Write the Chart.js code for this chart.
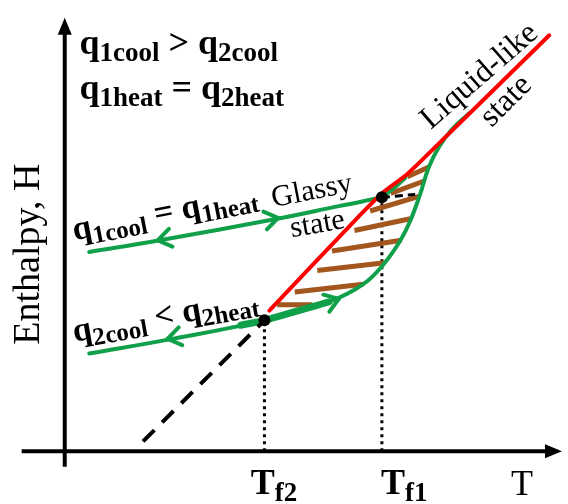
<!DOCTYPE html>
<html>
<head>
<meta charset="utf-8">
<script src="https://cdn.jsdelivr.net/npm/chart.js@4.4.1/dist/chart.umd.min.js"></script>
<style>
  html, body { margin: 0; padding: 0; background: #fff; }
  canvas { display: block; }
</style>
</head>
<body>
<canvas id="chart" width="568" height="504"></canvas>
<script>
// schematic data: T (temperature) and H (enthalpy), arbitrary units
const liquidLine = [[20.9, 14.4], [30.0, 24.0], [32.4, 26.4], [35.0, 28.4], [38.0, 31.3], [49.5, 42.6]];
const glass1Path = [[2.5, 20.4], [9.7, 21.6], [21.7, 23.8], [28.0, 25.1], [30.5, 25.6], [32.4, 26.1], [33.8, 27.1], [34.8, 28.0]];
const heat2Path = [[2.5, 10.0], [11.0, 11.5], [20.4, 13.4], [27.0, 15.3], [30.5, 17.1], [32.7, 19.3], [34.3, 21.6],
                   [35.3, 23.6], [36.3, 26.3], [37.2, 29.1], [38.2, 31.1], [39.5, 32.9], [41.3, 34.6]];
const overlapPath = [[18.0, 12.9], [20.4, 13.4], [27.0, 15.3]];
const fictiveT = [20.4, 32.4];       // Tf2, Tf1
const fictiveH = [13.4, 26.0];
const extrapLine = [[8.0, 1.0], [20.4, 13.4]];
const glass1Extrap = [[32.4, 26.0], [35.8, 26.3]];
// hatch strokes between liquid line and heating curve
const hatchFrom = [[35.0, 28.1], [33.3, 26.4], [31.2, 24.6], [29.6, 22.6], [27.3, 20.5], [25.8, 18.5], [23.5, 16.3], [21.7, 15.0]];
const hatchTo   = [[37.2, 29.1], [36.8, 27.7], [36.2, 26.1], [35.3, 23.8], [34.4, 21.6], [32.7, 19.3], [30.5, 17.1], [25.3, 15.0]];
// arrow tips on the curves, with a point behind each tip
const arrowTips  = [[9.5, 21.6], [21.8, 23.9], [10.5, 11.5], [28.0, 15.6]];
const arrowBacks = [[11.5, 22.0], [19.8, 23.5], [12.5, 11.9], [26.0, 14.9]];

const GREEN = '#10a04a';
const RED = '#ff0000';
const BROWN = '#a3561e';
const SERIF = '"Liberation Serif", "Times New Roman", serif';

const pts = arr => arr.map(p => ({x: p[0], y: p[1]}));

function line(data, color, width, extra) {
  return Object.assign({
    data: pts(data), showLine: true, borderColor: color, borderWidth: width,
    pointRadius: 0, fill: false, tension: 0, borderCapStyle: 'round', borderJoinStyle: 'round'
  }, extra || {});
}

const datasets = [];
datasets.push(line([[-4.4, 0], [49.8, 0]], '#000', 4, {order: 6, borderCapStyle: 'butt'}));
datasets.push(line([[0, -1.6], [0, 43.4]], '#000', 4, {order: 6, borderCapStyle: 'butt'}));
fictiveT.forEach((t, i) => {
  datasets.push(line([[t, 0], [t, fictiveH[i]]], '#000', 3, {order: 5, borderDash: [3, 4], borderCapStyle: 'butt'}));
});
hatchFrom.forEach((p, i) => {
  datasets.push(line([p, hatchTo[i]], BROWN, 5, {order: 4, borderCapStyle: 'butt'}));
});
datasets.push(line(glass1Path, GREEN, 4, {order: 3, tension: 0.4}));
datasets.push(line(heat2Path, GREEN, 4, {order: 3, tension: 0.4}));
datasets.push(line(overlapPath, GREEN, 7, {order: 3, tension: 0.3}));
datasets.push(line(extrapLine, '#000', 4, {order: 2, borderDash: [16, 11], borderCapStyle: 'butt'}));
datasets.push(line(glass1Extrap, '#000', 3, {order: 2, borderDash: [8, 5], borderCapStyle: 'butt'}));
datasets.push(line(liquidLine, RED, 4, {order: 1, tension: 0.3}));
datasets.push({
  data: fictiveT.map((t, i) => ({x: t, y: fictiveH[i]})), showLine: false,
  pointRadius: 6, pointBackgroundColor: '#000', pointBorderColor: '#000', pointBorderWidth: 0, order: 0
});

// text annotations: [T, H] anchor at the left end of the baseline, rotation in degrees
const main = (t, s) => ({t: t, s: s || 36, b: true});
const sub = (t, s) => ({t: t, s: s || 27, b: true, dy: 7});
const notes = [
  {at: [1.5, 40.7], rot: 0, parts: [main('q'), sub('1cool'), main(' > '), main('q'), sub('2cool')]},
  {at: [1.5, 36.1], rot: 0, parts: [main('q'), sub('1heat'), main(' = '), main('q'), sub('2heat')]},
  {at: [1.0, 21.6], rot: -11, parts: [main('q', 34), sub('1cool', 25), main(' = ', 34), main('q', 34), sub('1heat', 25)]},
  {at: [1.0, 11.2], rot: -10, parts: [main('q', 34), sub('2cool', 25), main(' < ', 34), main('q', 34), sub('2heat', 25)]},
  {at: [21.3, 25.0], rot: -11, parts: [{t: 'Glassy', s: 30}]},
  {at: [23.2, 21.9], rot: -10, parts: [{t: 'state', s: 30}]},
  {at: [37.4, 32.9], rot: -41, parts: [{t: 'Liquid-like', s: 32}]},
  {at: [43.6, 33.1], rot: -45, parts: [{t: 'state', s: 32}]},
  {at: [19.0, -4.4], rot: 0, parts: [main('T'), sub('f2')]},
  {at: [32.3, -4.4], rot: 0, parts: [main('T'), sub('f1')]},
  {at: [45.6, -4.5], rot: 0, parts: [{t: 'T', s: 36}]},
  {at: [-2.6, 10.9], rot: -90, parts: [{t: 'Enthalpy, H', s: 38}]}
];

function drawRich(ctx, x, y, rot, parts) {
  ctx.save();
  ctx.translate(x, y);
  ctx.rotate(rot * Math.PI / 180);
  ctx.textAlign = 'left';
  ctx.textBaseline = 'alphabetic';
  ctx.fillStyle = '#000';
  let cx = 0;
  parts.forEach(p => {
    ctx.font = (p.b ? 'bold ' : '') + p.s + 'px ' + SERIF;
    ctx.fillText(p.t, cx, p.dy || 0);
    cx += ctx.measureText(p.t).width;
  });
  ctx.restore();
}

const decorPlugin = {
  id: 'decor',
  afterDatasetsDraw(chart) {
    const ctx = chart.ctx;
    const xs = chart.scales.x, ys = chart.scales.y;
    const px = p => [xs.getPixelForValue(p[0]), ys.getPixelForValue(p[1])];

    // axis arrowheads
    ctx.save();
    ctx.fillStyle = '#000';
    const tri = (tip, ang) => {
      const [tx, ty] = px(tip);
      ctx.beginPath();
      ctx.moveTo(tx, ty);
      ctx.lineTo(tx - 17 * Math.cos(ang) - 7 * Math.sin(ang), ty - 17 * Math.sin(ang) + 7 * Math.cos(ang));
      ctx.lineTo(tx - 17 * Math.cos(ang) + 7 * Math.sin(ang), ty - 17 * Math.sin(ang) - 7 * Math.cos(ang));
      ctx.closePath();
      ctx.fill();
    };
    tri([50.8, 0], 0);
    tri([0, 44.4], -Math.PI / 2);

    // open chevrons on the green curves
    ctx.strokeStyle = GREEN;
    ctx.lineWidth = 4;
    ctx.lineCap = 'round';
    arrowTips.forEach((tip, i) => {
      const [tx, ty] = px(tip);
      const [bx, by] = px(arrowBacks[i]);
      const a = Math.atan2(ty - by, tx - bx);
      ctx.beginPath();
      ctx.moveTo(tx - 16 * Math.cos(a - 0.6), ty - 16 * Math.sin(a - 0.6));
      ctx.lineTo(tx, ty);
      ctx.lineTo(tx - 16 * Math.cos(a + 0.6), ty - 16 * Math.sin(a + 0.6));
      ctx.stroke();
    });
    ctx.restore();

    notes.forEach(n => {
      const [x, y] = px(n.at);
      drawRich(ctx, x, y, n.rot, n.parts);
    });
  }
};

new Chart(document.getElementById('chart'), {
  type: 'scatter',
  data: {datasets: datasets},
  options: {
    responsive: false,
    animation: false,
    layout: {padding: 0},
    plugins: {legend: {display: false}, tooltip: {enabled: false}},
    scales: {
      x: {type: 'linear', min: -6, max: 50.8, display: false},
      y: {type: 'linear', min: -4.8, max: 45.6, display: false}
    }
  },
  plugins: [decorPlugin]
});
</script>
</body>
</html>
